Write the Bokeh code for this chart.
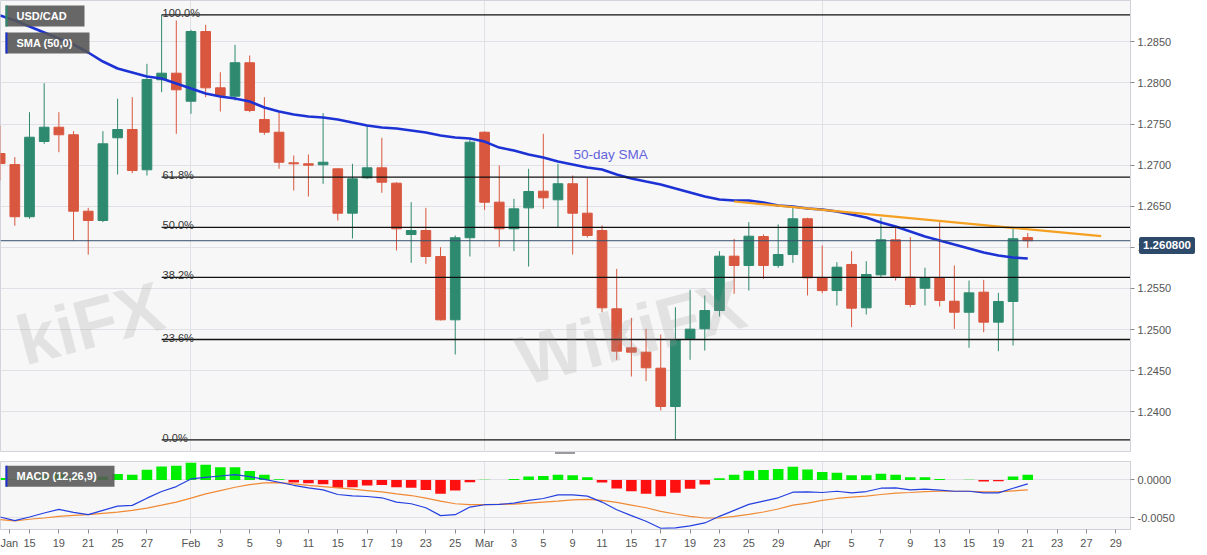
import numpy as np
import pandas as pd
from bokeh.plotting import figure
from bokeh.models import Range1d, FixedTicker, NumeralTickFormatter, ColumnDataSource, Span, Div
from bokeh.layouts import column
from bokeh.embed import file_html
from bokeh.resources import INLINE
from bokeh.core.properties import value

# ---------------- data ----------------
calendar = pd.bdate_range("2021-01-13", "2021-04-30")   # trading-day axis (weekdays)

opens = [
    1.27141, 1.27006, 1.26372, 1.27287, 1.27461, 1.27369, 1.26439, 1.26326, 1.27332, 1.27433,
    1.26943, 1.28038, 1.28118, 1.27777, 1.28625, 1.27940, 1.27838, 1.28245, 1.27555, 1.27400,
    1.27028, 1.27016, 1.27004, 1.26955, 1.26415, 1.26845, 1.26967, 1.26780, 1.26156, 1.26204,
    1.25888, 1.25118, 1.26116, 1.27400, 1.26549, 1.26225, 1.26480, 1.26683, 1.26578, 1.26773,
    1.26415, 1.26204, 1.25252, 1.24777, 1.24724, 1.24529, 1.24063, 1.24887, 1.25008, 1.25231,
    1.25892, 1.25779, 1.26131, 1.25779, 1.25912, 1.26347, 1.25629, 1.25474, 1.25791, 1.25264,
    1.25665, 1.26091, 1.25636, 1.25502, 1.25629, 1.25344, 1.25210, 1.25454, 1.25089, 1.25341,
    1.26118]
highs = [
    1.27481, 1.27098, 1.27644, 1.27996, 1.27644, 1.27413, 1.26480, 1.27413, 1.27807, 1.27826,
    1.28232, 1.28828, 1.28759, 1.28646, 1.28707, 1.28130, 1.28464, 1.28333, 1.27826, 1.27644,
    1.27117, 1.27129, 1.27631, 1.26960, 1.27016, 1.27482, 1.27332, 1.26790, 1.26549, 1.26480,
    1.26001, 1.26144, 1.27320, 1.27410, 1.26995, 1.26590, 1.26955, 1.27381, 1.27016, 1.26873,
    1.26841, 1.26265, 1.25738, 1.25142, 1.25008, 1.24939, 1.25271, 1.25483, 1.25414, 1.25953,
    1.26103, 1.26306, 1.26156, 1.26278, 1.26480, 1.26360, 1.26022, 1.25819, 1.25953, 1.25831,
    1.26359, 1.26245, 1.26123, 1.25751, 1.26305, 1.25779, 1.25596, 1.25604, 1.25446, 1.26245,
    1.26172]
lows = [
    1.26813, 1.26262, 1.26347, 1.27259, 1.27157, 1.26082, 1.25911, 1.26306, 1.26886, 1.26901,
    1.26873, 1.27887, 1.27381, 1.27624, 1.27826, 1.27652, 1.27786, 1.27644, 1.27369, 1.26955,
    1.26691, 1.26618, 1.26772, 1.26326, 1.26107, 1.26833, 1.26663, 1.25962, 1.25811, 1.25799,
    1.25110, 1.24696, 1.25888, 1.26456, 1.26005, 1.25953, 1.25766, 1.26468, 1.26245, 1.25912,
    1.26119, 1.25210, 1.24631, 1.24428, 1.24371, 1.24015, 1.23658, 1.24631, 1.24744, 1.25158,
    1.25434, 1.25474, 1.25617, 1.25751, 1.25811, 1.25414, 1.25442, 1.25292, 1.25028, 1.25182,
    1.25636, 1.25596, 1.25271, 1.25292, 1.25280, 1.25008, 1.24777, 1.24967, 1.24736, 1.24805,
    1.25994]
closes = [
    1.27019, 1.26372, 1.27339, 1.27461, 1.27369, 1.26439, 1.26326, 1.27259, 1.27433, 1.26934,
    1.28041, 1.28118, 1.27916, 1.28625, 1.27940, 1.27847, 1.28245, 1.27664, 1.27400, 1.27035,
    1.27016, 1.26999, 1.27035, 1.26415, 1.26833, 1.26967, 1.26792, 1.26225, 1.26204, 1.25888,
    1.25118, 1.26116, 1.27279, 1.26548, 1.26225, 1.26468, 1.26679, 1.26602, 1.26773, 1.26415,
    1.26144, 1.25264, 1.24736, 1.24724, 1.24534, 1.24063, 1.24874, 1.25004, 1.25231, 1.25892,
    1.25779, 1.26135, 1.25779, 1.25912, 1.26347, 1.25629, 1.25474, 1.25758, 1.25259, 1.25669,
    1.26091, 1.25645, 1.25304, 1.25629, 1.25353, 1.25210, 1.25446, 1.25089, 1.25341, 1.26104,
    1.26080]
sma50 = [
    1.28820, 1.28759, 1.28686, 1.28613, 1.28540, 1.28467, 1.28370, 1.28260, 1.28175, 1.28127,
    1.28078, 1.28053, 1.27993, 1.27932, 1.27871, 1.27835, 1.27810, 1.27774, 1.27701, 1.27652,
    1.27616, 1.27591, 1.27579, 1.27555, 1.27518, 1.27482, 1.27457, 1.27445, 1.27421, 1.27396,
    1.27360, 1.27335, 1.27323, 1.27286, 1.27213, 1.27177, 1.27128, 1.27092, 1.27043, 1.27007,
    1.26970, 1.26946, 1.26885, 1.26837, 1.26800, 1.26764, 1.26715, 1.26667, 1.26618, 1.26582,
    1.26569, 1.26569, 1.26545, 1.26508, 1.26496, 1.26472, 1.26460, 1.26435, 1.26399, 1.26362,
    1.26301, 1.26253, 1.26192, 1.26131, 1.26083, 1.26034, 1.25986, 1.25937, 1.25900, 1.25876,
    1.25864]
macd_line = [
    -0.00492, -0.00540, -0.00492, -0.00439, -0.00391, -0.00430, -0.00461, -0.00404, -0.00347, -0.00338,
    -0.00242, -0.00154, -0.00088, 0.00013, 0.00035, 0.00052, 0.00070, 0.00043, 0.00008, -0.00031,
    -0.00071, -0.00106, -0.00132, -0.00193, -0.00211, -0.00220, -0.00237, -0.00294, -0.00316, -0.00369,
    -0.00474, -0.00461, -0.00360, -0.00329, -0.00325, -0.00308, -0.00272, -0.00246, -0.00198, -0.00198,
    -0.00215, -0.00294, -0.00395, -0.00474, -0.00549, -0.00641, -0.00636, -0.00610, -0.00571, -0.00483,
    -0.00404, -0.00325, -0.00281, -0.00237, -0.00163, -0.00158, -0.00167, -0.00150, -0.00172, -0.00154,
    -0.00110, -0.00106, -0.00132, -0.00123, -0.00136, -0.00150, -0.00150, -0.00172, -0.00172, -0.00110,
    -0.00053]
signal_line = [
    -0.00527, -0.00544, -0.00522, -0.00505, -0.00483, -0.00470, -0.00461, -0.00443, -0.00426, -0.00404,
    -0.00373, -0.00334, -0.00294, -0.00242, -0.00185, -0.00141, -0.00097, -0.00062, -0.00040, -0.00036,
    -0.00053, -0.00071, -0.00088, -0.00106, -0.00123, -0.00141, -0.00158, -0.00185, -0.00207, -0.00242,
    -0.00281, -0.00316, -0.00329, -0.00329, -0.00325, -0.00321, -0.00308, -0.00294, -0.00281, -0.00264,
    -0.00259, -0.00272, -0.00299, -0.00334, -0.00369, -0.00417, -0.00452, -0.00483, -0.00505, -0.00505,
    -0.00483, -0.00457, -0.00426, -0.00386, -0.00334, -0.00308, -0.00272, -0.00246, -0.00229, -0.00215,
    -0.00193, -0.00176, -0.00167, -0.00154, -0.00150, -0.00150, -0.00150, -0.00158, -0.00158, -0.00145,
    -0.00132]
macd_hist = [
    0.00026, 0.00005, 0.00030, 0.00060, 0.00090, 0.00040, 0.00005, 0.00044, 0.00079, 0.00070,
    0.00136, 0.00180, 0.00189, 0.00228, 0.00202, 0.00167, 0.00167, 0.00118, 0.00070, 0.00010,
    -0.00035, -0.00044, -0.00057, -0.00105, -0.00096, -0.00075, -0.00066, -0.00096, -0.00105, -0.00132,
    -0.00184, -0.00140, -0.00030, 0.00002, -0.00002, 0.00013, 0.00044, 0.00053, 0.00070, 0.00061,
    0.00035, -0.00035, -0.00114, -0.00149, -0.00184, -0.00215, -0.00171, -0.00118, -0.00061, 0.00022,
    0.00070, 0.00123, 0.00132, 0.00145, 0.00175, 0.00140, 0.00105, 0.00096, 0.00061, 0.00061,
    0.00083, 0.00070, 0.00035, 0.00035, 0.00013, -0.00002, 0.00002, -0.00022, -0.00018, 0.00044,
    0.00070]

trend_dates = ["2021-03-24", "2021-04-28"]
trend_prices = [1.26557, 1.26135]

fib_ratios = [0.0, 0.236, 0.382, 0.5, 0.618, 1.0]
fib_labels = ["0.0%", "23.6%", "38.2%", "50.0%", "61.8%", "100.0%"]

tick_dates = ["2021-01-13", "2021-01-15", "2021-01-19", "2021-01-21", "2021-01-25", "2021-01-27",
              "2021-02-01", "2021-02-03", "2021-02-05", "2021-02-09", "2021-02-11", "2021-02-15",
              "2021-02-17", "2021-02-19", "2021-02-23", "2021-02-25",
              "2021-03-01", "2021-03-03", "2021-03-05", "2021-03-09", "2021-03-11", "2021-03-15",
              "2021-03-17", "2021-03-19", "2021-03-23", "2021-03-25", "2021-03-29",
              "2021-04-01", "2021-04-05", "2021-04-07", "2021-04-09", "2021-04-13", "2021-04-15",
              "2021-04-19", "2021-04-21", "2021-04-23", "2021-04-27", "2021-04-29"]
month_starts = ["2021-02-01", "2021-03-01", "2021-04-01"]
price_ticks = [1.2400, 1.2450, 1.2500, 1.2550, 1.2600, 1.2650, 1.2700, 1.2750, 1.2800, 1.2850]
macd_ticks = [-0.0050, 0.0000]

# ---------------- layout constants ----------------
W, H1, H2, AXW = 1207, 452, 103, 77
DAY_PX = 14.68
FONT = "Liberation Sans"


def idx_of(d):
    return calendar.get_loc(pd.Timestamp(d))


x_start = idx_of("2021-01-15") - 29 / DAY_PX
x_end = x_start + (W - AXW) / DAY_PX
PPU1 = 8220.0                      # px per price unit, main panel
y_top = 1.2850 + 41.3 / PPU1
y_bot = y_top - H1 / PPU1
PPU2 = 7600.0                      # px per unit, MACD panel
m_top = 18.6 / PPU2
m_bot = m_top - 68.6 / PPU2


def mx(px):
    return x_start + px / DAY_PX


def my(py):
    return y_top - py / PPU1


def ny(py):                        # py measured from top of MACD frame
    return m_top - py / PPU2


n = len(closes)
x = list(range(n))
GREEN, RED = "#2e8a6f", "#d9573f"
colors = [GREEN if c >= o else RED for o, c in zip(opens, closes)]
src = ColumnDataSource(dict(
    x=x, o=opens, h=highs, l=lows, c=closes,
    top=[max(o, c) for o, c in zip(opens, closes)],
    bottom=[min(o, c) for o, c in zip(opens, closes)],
    color=colors))

# ---------------- main panel ----------------
p1 = figure(width=W, height=H1, x_range=Range1d(x_start, x_end), y_range=Range1d(y_bot, y_top),
            x_axis_location=None, y_axis_location="right", toolbar_location=None,
            output_backend="svg", min_border_left=0, min_border_right=AXW,
            min_border_top=0, min_border_bottom=0,
            background_fill_color="#f7f7f7", border_fill_color="white",
            outline_line_color="#d3d3dc")
p1.xgrid.ticker = FixedTicker(ticks=[idx_of(d) for d in month_starts])
p1.xgrid.grid_line_color = "#e0e0e6"
p1.ygrid.grid_line_color = "#e0e0e6"
p1.yaxis.ticker = FixedTicker(ticks=price_ticks)
p1.yaxis.formatter = NumeralTickFormatter(format="0.0000")

p1.segment(x0="x", y0="h", x1="x", y1="l", color="color", line_width=1, source=src)
p1.vbar(x="x", top="top", bottom="bottom", width=0.66, fill_color="color",
        line_color="color", line_width=1, source=src)

p1.line(x, sma50, color="#1c32d4", line_width=2.6)
p1.line([idx_of(d) for d in trend_dates], trend_prices, color="#f5a020", line_width=2.2)

fib_hi = max(highs)
fib_lo = min(lows)
fib_x0 = highs.index(fib_hi)
fib_levels = [fib_lo + r * (fib_hi - fib_lo) for r in fib_ratios]
p1.segment(x0=[fib_x0] * len(fib_levels), x1=[x_end] * len(fib_levels),
           y0=fib_levels, y1=fib_levels, color="#111111", line_width=1.3)
p1.text(x=[fib_x0] * len(fib_levels), y=fib_levels, text=fib_labels,
        text_font=value(FONT), text_font_size="11px", text_color="#333333",
        text_baseline="alphabetic", text_align="left", x_offset=1, y_offset=-2)

p1.add_layout(Span(location=closes[-1], dimension="width", line_color="#34506f", line_width=1))

p1.text(x=[mx(573)], y=[my(154)], text=["50-day SMA"], text_font=value(FONT),
        text_font_size="13.5px", text_color="#6464dc", text_baseline="middle", text_align="left")

# faint watermark text over the plot area (left one shows only its visible tail)
p1.text(x=[mx(518), mx(18)], y=[my(362), my(342)], text=["WikiFX", "kiFX"],
        text_font=value("Liberation Sans"), text_font_size="70px", text_font_style="bold",
        text_color="#999999", text_alpha=0.22, angle=0.26,
        text_baseline="alphabetic", text_align="left")

# legend boxes (pixel placement)
for (lx, ty, bw, bh, strip, label) in [(5, 5, 79, 21, "#2e8a6f", "USD/CAD"),
                                        (5, 32, 84, 21, "#1c32d4", "SMA (50,0)")]:
    p1.rect(x=[mx(lx + bw / 2)], y=[my(ty + bh / 2)], width=bw, height=bh,
            width_units="screen", height_units="screen",
            fill_color="#565656", fill_alpha=0.9, line_color=None)
    p1.rect(x=[mx(lx + 1)], y=[my(ty + bh / 2)], width=2, height=bh,
            width_units="screen", height_units="screen", fill_color=strip, line_color=None)
    p1.text(x=[mx(16)], y=[my(ty + bh / 2)], text=[label], text_font=value(FONT),
            text_font_size="11px", text_font_style="bold", text_color="white",
            text_baseline="middle", text_align="left")

# ---------------- MACD panel ----------------
p2 = figure(width=W, height=H2, x_range=p1.x_range, y_range=Range1d(m_bot, m_top),
            y_axis_location="right", toolbar_location=None, output_backend="svg",
            min_border_left=0, min_border_right=AXW, min_border_top=9, min_border_bottom=26,
            background_fill_color="#f7f7f7", border_fill_color="white",
            outline_line_color="#d3d3dc")
p2.xgrid.ticker = FixedTicker(ticks=[idx_of(d) for d in month_starts])
p2.xgrid.grid_line_color = "#e0e0e6"
p2.ygrid.grid_line_color = "#e0e0e6"
p2.yaxis.ticker = FixedTicker(ticks=macd_ticks)
p2.yaxis.formatter = NumeralTickFormatter(format="0.0000")

tick_pos, tick_txt = [], []
for k, d in enumerate(tick_dates):
    ts = pd.Timestamp(d)
    pos = float(idx_of(d))
    first_of_month = (k == 0) or (pd.Timestamp(tick_dates[k - 1]).month != ts.month)
    lab = ts.strftime("%b") if first_of_month else str(ts.day)
    if k == 0:
        pos += 0.62          # keep the clipped first month label inside the page
    tick_pos.append(pos)
    tick_txt.append(lab)
p2.xaxis.ticker = FixedTicker(ticks=tick_pos)
p2.xaxis.major_label_overrides = {p: t for p, t in zip(tick_pos, tick_txt)}

hcol = ["#00ee00" if v >= 0 else "#ff1010" for v in macd_hist]
p2.vbar(x=x, top=macd_hist, bottom=0, width=0.72, fill_color=hcol, line_color=None)
p2.line(x, signal_line, color="#f08a35", line_width=1.2)
p2.line(x, macd_line, color="#2440e0", line_width=1.2)

p2.rect(x=[mx(5 + 109 / 2)], y=[ny(4.5 + 10.5)], width=109, height=21,
        width_units="screen", height_units="screen",
        fill_color="#565656", fill_alpha=0.88, line_color=None)
p2.rect(x=[mx(6)], y=[ny(15)], width=2, height=21, width_units="screen",
        height_units="screen", fill_color="#1c32d4", line_color=None)
p2.text(x=[mx(16)], y=[ny(15)], text=["MACD (12,26,9)"], text_font=value(FONT),
        text_font_size="11px", text_font_style="bold", text_color="white",
        text_baseline="middle", text_align="left")

for ax in (p1.yaxis[0], p2.yaxis[0], p2.xaxis[0]):
    ax.major_label_text_font = FONT
    ax.major_label_text_font_size = "11px"
    ax.major_label_text_color = "#555555"
    ax.axis_line_color = "#cfd0d8"
    ax.major_tick_line_color = "#8c8c8c"
    ax.major_tick_out = 4
    ax.major_tick_in = 0
    ax.minor_tick_line_color = None
    ax.major_label_standoff = 3

# last-price tag in the price-axis gutter
last_py = (y_top - closes[-1]) * PPU1
price_tag = Div(text=f"{closes[-1]:.6f}",
                styles={"position": "absolute", "left": "1134px",
                        "top": f"{last_py - 8.5:.1f}px",
                        "background-color": "#2e4a6a", "color": "white",
                        "font-family": "'Liberation Sans', Arial, sans-serif",
                        "font-size": "11.5px", "font-weight": "bold",
                        "line-height": "17px", "padding": "0px 4px",
                        "border-radius": "2px", "z-index": "10"})

# panel-resize grip between the two panels
grip = Div(text="", styles={"position": "absolute", "left": "555px", "top": "452px",
                            "width": "20px", "height": "2px", "padding": "0px",
                            "margin": "0px", "overflow": "hidden",
                            "border-top": "1px solid #9a9a9a",
                            "border-bottom": "1px solid #9a9a9a",
                            "z-index": "10"})

layout = column(p1, p2, price_tag, grip, spacing=0,
                styles={"position": "absolute", "left": "0px", "top": "0px"})

open("out.html", "w").write(file_html(layout, INLINE))
